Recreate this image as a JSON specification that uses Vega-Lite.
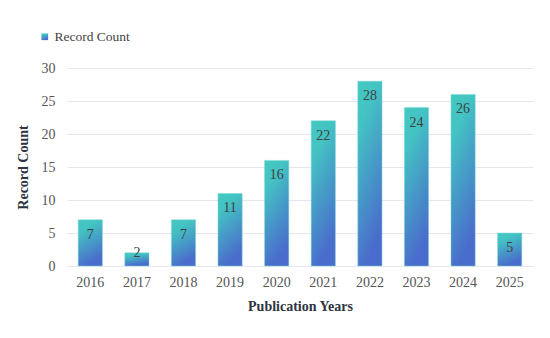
{
  "$schema": "https://vega.github.io/schema/vega-lite/v6.json",
  "width": 466,
  "height": 198,
  "autosize": {"type": "none"},
  "padding": {"left": 67, "top": 68, "right": 17, "bottom": 72},
  "background": "white",
  "config": {
    "font": "Liberation Serif",
    "axis": {"labelFont": "Liberation Serif", "titleFont": "Liberation Serif"},
    "legend": {"labelFont": "Liberation Serif", "titleFont": "Liberation Serif"},
    "text": {"font": "Liberation Serif"},
    "view": {"stroke": null}
  },
  "data": {
    "values": [
      {"year": "2016", "count": 7, "series": "Record Count"},
      {"year": "2017", "count": 2, "series": "Record Count"},
      {"year": "2018", "count": 7, "series": "Record Count"},
      {"year": "2019", "count": 11, "series": "Record Count"},
      {"year": "2020", "count": 16, "series": "Record Count"},
      {"year": "2021", "count": 22, "series": "Record Count"},
      {"year": "2022", "count": 28, "series": "Record Count"},
      {"year": "2023", "count": 24, "series": "Record Count"},
      {"year": "2024", "count": 26, "series": "Record Count"},
      {"year": "2025", "count": 5, "series": "Record Count"}
    ]
  },
  "encoding": {
    "x": {
      "field": "year",
      "type": "ordinal",
      "scale": {"paddingInner": 0.48, "paddingOuter": 0.24},
      "axis": {
        "title": "Publication Years",
        "titleFont": "Liberation Serif",
        "titleFontSize": 14,
        "titleFontWeight": "bold",
        "titleColor": "#2e3440",
        "titlePadding": 10,
        "labelFont": "Liberation Serif",
        "labelAngle": 0,
        "labelFontSize": 14,
        "labelColor": "#555555",
        "labelPadding": 9,
        "ticks": false,
        "domain": false
      }
    },
    "y": {
      "field": "count",
      "type": "quantitative",
      "scale": {"domain": [0, 30]},
      "axis": {
        "title": "Record Count",
        "titleFont": "Liberation Serif",
        "titleFontSize": 14,
        "titleFontWeight": "bold",
        "titleColor": "#2e3440",
        "titlePadding": 11,
        "values": [0, 5, 10, 15, 20, 25, 30],
        "labelFont": "Liberation Serif",
        "labelFontSize": 14,
        "labelColor": "#555555",
        "labelPadding": 12,
        "ticks": false,
        "domain": false,
        "gridColor": "#e6e7ee",
        "gridWidth": 1
      }
    }
  },
  "layer": [
    {
      "mark": {
        "type": "bar",
        "color": {
          "gradient": "linear",
          "x1": 0, "y1": 0, "x2": 0.3, "y2": 1,
          "stops": [
            {"offset": 0, "color": "#44c9c1"},
            {"offset": 0.25, "color": "#43c3c3"},
            {"offset": 1, "color": "#4a6ccc"}
          ]
        },
        "stroke": "#7fd8d4",
        "strokeWidth": 0.5
      },
      "encoding": {
        "opacity": {
          "field": "series",
          "type": "nominal",
          "scale": {"range": [1]},
          "legend": {
            "title": null,
            "orient": "none",
            "legendX": -29,
            "legendY": -38,
            "symbolType": "square",
            "symbolSize": 45,
            "symbolFillColor": "#3fa3cc",
            "symbolStrokeWidth": 0,
            "symbolOpacity": 1,
            "labelFont": "Liberation Serif",
            "labelFontSize": 13.5,
            "labelColor": "#444444",
            "labelOffset": 3
          }
        }
      }
    },
    {
      "transform": [{"filter": "datum.count >= 4"}],
      "mark": {"type": "text", "font": "Liberation Serif", "baseline": "top", "dy": 8, "fontSize": 14, "color": "#404040"},
      "encoding": {"text": {"field": "count", "type": "quantitative"}}
    },
    {
      "transform": [{"filter": "datum.count < 4"}],
      "mark": {"type": "text", "font": "Liberation Serif", "baseline": "middle", "dy": 0, "fontSize": 14, "color": "#404040"},
      "encoding": {"text": {"field": "count", "type": "quantitative"}}
    }
  ]
}
